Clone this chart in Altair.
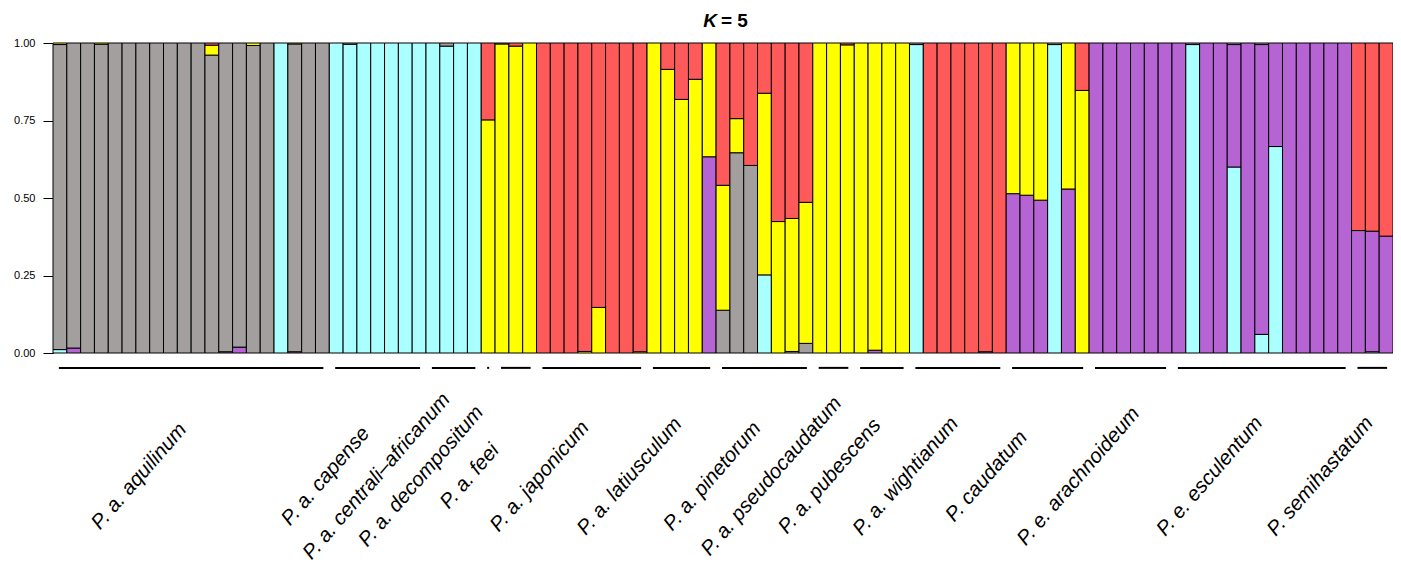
import altair as alt
import pandas as pd

# ---- data -------------------------------------------------------------
groups = ["P. a. aquilinum", "P. a. capense", "P. a. centrali–africanum",
          "P. a. decompositum", "P. a. feei", "P. a. japonicum",
          "P. a. latiusculum", "P. a. pinetorum", "P. a. pseudocaudatum",
          "P. a. pubescens", "P. a. wightianum", "P. caudatum",
          "P. e. arachnoideum", "P. e. esculentum", "P. semihastatum"]
group_sizes = [20, 7, 4, 1, 3, 8, 5, 7, 3, 4, 7, 6, 6, 13, 3]

# clusters in stacking order (bottom -> top)
clusters = ["cyan", "purple", "grey", "yellow", "red"]
colors = ["#AAFFFF", "#B664D4", "#A39F9F", "#FFFF00", "#FF5A5A"]

cyan = ([.011, 0, 0, 0, 0, 0, 0, 0, 0, 0, 0, 0, 0, 0, 0, 0, 1, 0, 0, 0]
        + [1, .996, 1, 1, 1, 1, 1]
        + [1, .99, 1, 1]
        + [0]
        + [0, 0, 0]
        + [0, 0, 0, 0, 0, 0, 0, 0]
        + [0, 0, 0, 0, 0]
        + [0, 0, 0, .252, 0, 0, 0]
        + [0, 0, 0]
        + [0, 0, 0, 0]
        + [.995, 0, 0, 0, 0, 0, 0]
        + [0, 0, 0, .995, 0, 0]
        + [0, 0, 0, 0, 0, 0]
        + [0, .995, 0, 0, .600, 0, .060, .666, 0, 0, 0, 0, 0]
        + [0, .004, 0])
purple = ([0, .016, 0, 0, 0, 0, 0, 0, 0, 0, 0, 0, .004, .019, 0, 0, 0, .004, 0, 0]
          + [0, 0, 0, 0, 0, 0, 0]
          + [0, 0, 0, 0]
          + [0]
          + [0, 0, 0]
          + [0, 0, 0, 0, 0, 0, 0, 0]
          + [0, 0, 0, 0, .633]
          + [0, 0, 0, 0, 0, 0, 0]
          + [0, 0, 0]
          + [0, .009, 0, 0]
          + [0, 0, 0, 0, 0, .004, 0]
          + [.514, .509, .493, 0, .529, 0]
          + [1, 1, 1, 1, 1, 1]
          + [1, .005, 1, 1, .395, 1, .935, .334, 1, 1, 1, 1, 1]
          + [.395, .389, .377])
grey = ([.984, .984, 1, .996, 1, 1, 1, 1, 1, 1, 1, .961, .996, .981, .992, 1, 0, .993, 1, 1]
        + [0, .004, 0, 0, 0, 0, 0]
        + [0, .01, 0, 0]
        + [0]
        + [0, 0, 0]
        + [0, 0, 0, 0, 0, 0, 0, 0]
        + [0, 0, 0, 0, 0]
        + [.138, .646, .605, 0, 0, .005, .031]
        + [0, 0, 0]
        + [0, 0, 0, 0]
        + [.005, 0, 0, 0, 0, 0, 0]
        + [0, 0, 0, .005, 0, 0]
        + [0, 0, 0, 0, 0, 0]
        + [0, 0, 0, 0, .005, 0, .005, 0, 0, 0, 0, 0, 0]
        + [0, 0, 0])
yellow = ([.005, 0, 0, .004, 0, 0, 0, 0, 0, 0, 0, .032, 0, 0, .008, 0, 0, .003, 0, 0]
          + [0, 0, 0, 0, 0, 0, 0]
          + [0, 0, 0, 0]
          + [.752]
          + [.997, .99, 1]
          + [0, 0, 0, .005, .147, 0, 0, .004]
          + [1, .915, .818, .883, .367]
          + [.403, .110, 0, .586, .424, .429, .455]
          + [1, 1, .994]
          + [1, .991, 1, 1]
          + [0, 0, 0, 0, 0, 0, 0]
          + [.486, .491, .507, 0, .471, .847]
          + [0, 0, 0, 0, 0, 0]
          + [0, 0, 0, 0, 0, 0, 0, 0, 0, 0, 0, 0, 0]
          + [0, 0, 0])
red = ([0, 0, 0, 0, 0, 0, 0, 0, 0, 0, 0, .007, 0, 0, 0, 0, 0, 0, 0, 0]
       + [0, 0, 0, 0, 0, 0, 0]
       + [0, 0, 0, 0]
       + [.248]
       + [.003, .01, 0]
       + [1, 1, 1, .995, .853, 1, 1, .996]
       + [0, .085, .182, .117, 0]
       + [.459, .244, .395, .162, .576, .566, .514]
       + [0, 0, .006]
       + [0, 0, 0, 0]
       + [0, 1, 1, 1, 1, .996, 1]
       + [0, 0, 0, 0, 0, .153]
       + [0, 0, 0, 0, 0, 0]
       + [0, 0, 0, 0, 0, 0, 0, 0, 0, 0, 0, 0, 0]
       + [.605, .607, .623])

# ---- layout settings (not data) --------------------------------------
PLOT_W, PLOT_H = 1340, 310
LABEL_SHIFT = -3.76                     # label centre relative to group centre (bar units)
LABEL_NUDGE_PX = [0, 0, -25, -15, 6, 0, 0, 0, -10, 0, 0, -9, 0, 0, 0]

# ---- build tables -----------------------------------------------------
series = [cyan, purple, grey, yellow, red]
n_bars = len(cyan)
bar_px = PLOT_W / n_bars
rows = []
for i in range(n_bars):
    cum = 0.0
    for name, s in zip(clusters, series):
        v = s[i]
        if v > 0:
            rows.append({"x0": i, "x1": i + 1, "y0": cum, "y1": cum + v,
                         "cluster": name})
        cum += v
bars_df = pd.DataFrame(rows)

grp_rows = []
start = 0
for g, n, nud in zip(groups, group_sizes, LABEL_NUDGE_PX):
    grp_rows.append({"label": g, "s": start + 0.5, "e": start + n - 0.5,
                     "c": start + n / 2 + LABEL_SHIFT + nud / bar_px})
    start += n
grp_df = pd.DataFrame(grp_rows)

FONT = "Liberation Sans"

xscale = alt.Scale(domain=[0, n_bars], nice=False, zero=False)
yscale = alt.Scale(domain=[0, 1], nice=False, zero=False)

bars = alt.Chart(bars_df).mark_rect(stroke="black", strokeWidth=1).encode(
    x=alt.X("x0:Q", scale=xscale, axis=None),
    x2="x1:Q",
    y=alt.Y("y0:Q", scale=yscale,
            axis=alt.Axis(values=[0, 0.25, 0.5, 0.75, 1], format=".2f",
                          tickSize=10, labelPadding=8, domainColor="black",
                          tickColor="black", labelColor="black",
                          labelFontSize=11, labelFont=FONT, grid=False,
                          title=None, domainWidth=1, tickWidth=1)),
    y2="y1:Q",
    color=alt.Color("cluster:N", scale=alt.Scale(domain=clusters, range=colors),
                    legend=None),
)

lines = alt.Chart(grp_df).mark_rule(color="black", strokeWidth=2,
                                    strokeCap="square").encode(
    x=alt.X("s:Q", scale=xscale),
    x2="e:Q",
    y=alt.datum(-0.048),
)

labels = alt.Chart(grp_df).mark_text(
    angle=311, align="center", baseline="middle", font=FONT,
    fontStyle="italic", fontSize=20.5, color="black"
).encode(
    x=alt.X("c:Q", scale=xscale),
    y=alt.datum(-0.398),
    text="label:N",
)

title_df = pd.DataFrame({"k": ["K"], "rest": ["= 5"]})
title_k = alt.Chart(title_df).mark_text(
    align="right", baseline="alphabetic", font=FONT, fontWeight="bold",
    fontStyle="italic", fontSize=19, color="black"
).encode(x=alt.value(664), y=alt.value(-16), text="k:N")
title_rest = alt.Chart(title_df).mark_text(
    align="left", baseline="alphabetic", font=FONT, fontWeight="bold",
    fontSize=19, color="black"
).encode(x=alt.value(668), y=alt.value(-16), text="rest:N")

chart = alt.layer(bars, lines, labels, title_k, title_rest).properties(
    width=PLOT_W, height=PLOT_H,
    autosize=alt.AutoSizeParams(type="none"),
    padding={"left": 45, "top": 35, "right": 0, "bottom": 209},
    background="white",
).configure_view(stroke=None)

chart.save("out.html", embed_options={"renderer": "svg", "actions": False})
